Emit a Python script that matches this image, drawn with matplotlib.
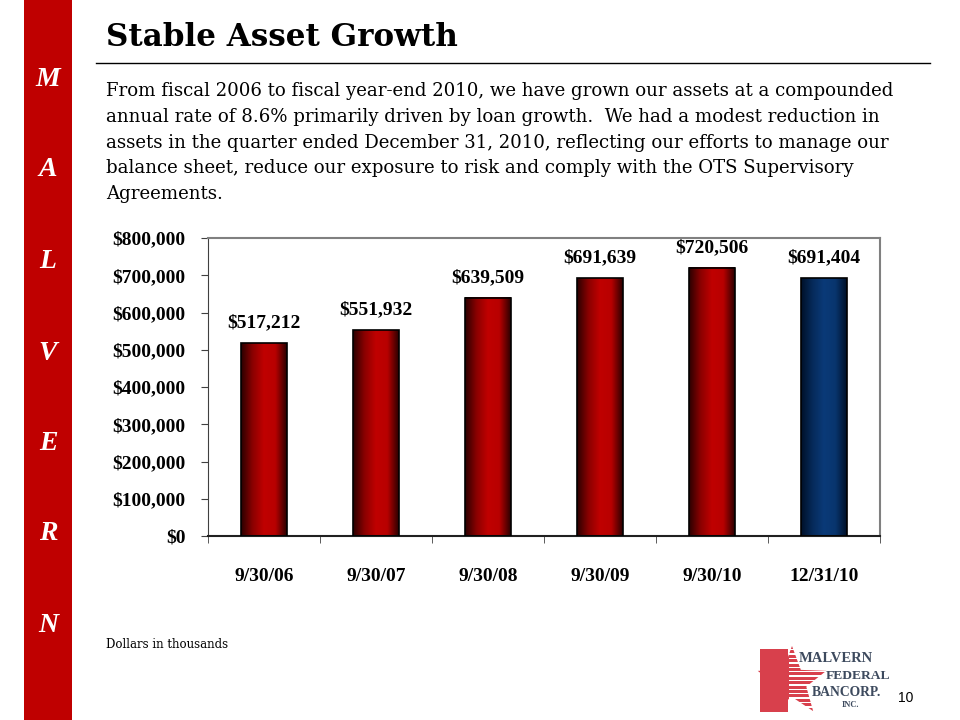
import numpy as np
import matplotlib.pyplot as plt
from matplotlib.colors import LinearSegmentedColormap
from matplotlib.patches import Rectangle, Polygon

# data (dollars in thousands)
periods = ["9/30/06", "9/30/07", "9/30/08", "9/30/09", "9/30/10", "12/31/10"]
assets = [517212, 551932, 639509, 691639, 720506, 691404]
bar_kind = ["red", "red", "red", "red", "red", "blue"]
yticks = [0, 100000, 200000, 300000, 400000, 500000, 600000, 700000, 800000]

body_lines = [
    "From fiscal 2006 to fiscal year-end 2010, we have grown our assets at a compounded",
    "annual rate of 8.6% primarily driven by loan growth.  We had a modest reduction in",
    "assets in the quarter ended December 31, 2010, reflecting our efforts to manage our",
    "balance sheet, reduce our exposure to risk and comply with the OTS Supervisory",
    "Agreements.",
]

cmaps = {
    "red": LinearSegmentedColormap.from_list("r", ["#2a0000", "#8a0000", "#c00000", "#b80000", "#2a0000"]),
    "blue": LinearSegmentedColormap.from_list("b", ["#001028", "#062a5a", "#0a3a78", "#08356e", "#001028"]),
}

W, H = 960, 720
fig = plt.figure(figsize=(9.6, 7.2), dpi=100)

def fx(x):
    return x / W

def fy(y):
    return 1 - y / H

# left red banner with letters
fig.add_artist(Rectangle((fx(24), 0), 48 / W, 1, transform=fig.transFigure,
                         facecolor="#bf0000", edgecolor="none"))
for letter, ypx in zip("MALVERN", [80, 170, 262, 353, 443, 533, 625]):
    fig.text(fx(48), fy(ypx), letter, color="white", fontsize=20, fontweight="bold",
             fontstyle="italic", family="Liberation Serif", ha="center", va="center")

# title + rule
fig.text(fx(106), fy(37), "Stable Asset Growth", fontsize=22.3, fontweight="bold",
         family="DejaVu Serif", ha="left", va="center")
fig.add_artist(plt.Line2D([fx(96), fx(930)], [fy(63), fy(63)], transform=fig.transFigure,
                          color="black", lw=1))

for i, line in enumerate(body_lines):
    fig.text(fx(106), fy(96 + 25.8 * i), line, fontsize=13.05, family="DejaVu Serif",
             ha="left", va="baseline")

ax = fig.add_axes([fx(208), fy(536), 672 / W, 298 / H])

width = 0.41
bars = ax.bar(range(len(periods)), assets, width=width, color="none", edgecolor="black",
              linewidth=1.2, zorder=3)
grad = np.linspace(0, 1, 256).reshape(1, -1)
for b, kind, val in zip(bars, bar_kind, assets):
    x0 = b.get_x()
    ax.imshow(grad, cmap=cmaps[kind], aspect="auto", extent=(x0, x0 + width, 0, val),
              zorder=2, interpolation="bicubic")
    ax.annotate(f"${val:,}", (b.get_x() + width / 2, val), xytext=(0, 8.5),
                textcoords="offset points", ha="center", va="bottom",
                fontsize=14, fontweight="bold", family="Liberation Serif")

ax.set_xlim(-0.5, len(periods) - 0.5)
ax.set_ylim(0, 800000)
ax.set_yticks(yticks)
ax.set_yticklabels([f"${v:,}" for v in yticks])
ax.set_xticks(range(len(periods)))
ax.set_xticklabels(periods)
ax.set_xticks(np.arange(-0.5, len(periods)), minor=True)
ax.tick_params(axis="x", which="major", length=0, pad=23)
ax.tick_params(axis="x", which="minor", length=5, direction="out", color="#404040")
ax.tick_params(axis="y", length=5, direction="out", pad=11, color="#404040")
for lab in ax.get_xticklabels() + ax.get_yticklabels():
    lab.set_fontsize(14)
    lab.set_fontweight("bold")
    lab.set_family("Liberation Serif")
for side in ["top", "right"]:
    ax.spines[side].set_color("#808080")
    ax.spines[side].set_linewidth(1.5)
ax.spines["left"].set_color("#404040")
ax.spines["bottom"].set_color("#202020")
ax.spines["bottom"].set_linewidth(1.5)

fig.text(fx(106), fy(645), "Dollars in thousands", fontsize=8.5, family="DejaVu Serif",
         ha="left", va="center")
fig.text(fx(906), fy(698), "10", fontsize=10, family="Liberation Sans", ha="center", va="center")

# logo approximation: striped red star + company name
logo_red = "#d8404c"
fig.add_artist(Rectangle((fx(760), fy(712)), 28 / W, 63 / H, transform=fig.transFigure,
                         facecolor=logo_red, edgecolor="none"))
cx, cy, r_out, r_in = 792, 682, 36, 15
ang = np.pi / 2 + np.arange(10) * np.pi / 5
rad = np.where(np.arange(10) % 2 == 0, r_out, r_in)
star = [(fx(cx + r * np.cos(a)), fy(cy - r * np.sin(a))) for r, a in zip(rad, ang)]
fig.add_artist(Polygon(star, closed=True, transform=fig.transFigure,
                       facecolor=logo_red, edgecolor="none"))
for k in range(15):
    yy = 649 + k * 4.4
    fig.add_artist(Rectangle((fx(789), fy(yy + 1.4)), 40 / W, 1.4 / H,
                             transform=fig.transFigure, facecolor="white", edgecolor="none"))
for txt, xl, yc, fs in [("MALVERN", 799, 658, 10.5), ("FEDERAL", 826, 676, 9.7),
                        ("BANCORP.", 812, 692, 9.8), ("INC.", 842, 705, 6)]:
    fig.text(fx(xl), fy(yc), txt, fontsize=fs, fontweight="bold", family="Liberation Serif",
             color="#3d4a5e", ha="left", va="center")

fig.savefig("out.png", dpi=100)
